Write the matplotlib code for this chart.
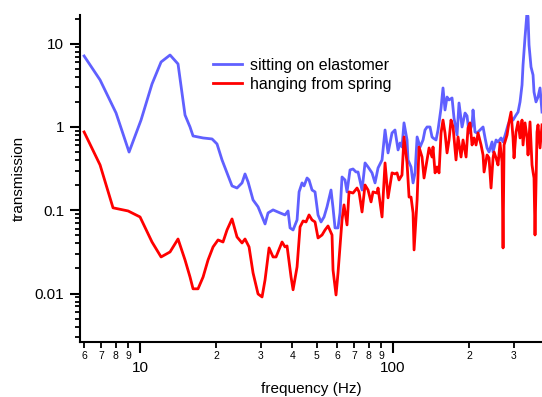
import matplotlib
matplotlib.use('Agg')
import matplotlib.pyplot as plt
import matplotlib.ticker as mticker
import numpy as np

plt.rcParams['font.family'] = ['Liberation Sans', 'DejaVu Sans']

# sitting on elastomer (blue)
freq_elastomer = [6.01, 6.95, 8.04, 9.05, 10.09, 11.15, 12.11, 13.14, 14.13, 15.06, 15.76, 16.2,
                  17.75, 19.26, 20.15, 21.09, 22.07, 23.1, 24.17, 25.3, 26.0, 26.73, 27.97, 29.27,
                  31.2, 32.06, 33.56, 35.76, 37.42, 38.46, 39.17, 40.26, 41.75, 42.52, 43.69, 44.49,
                  45.73, 46.56, 47.85, 49.17, 50.53, 51.93, 53.37, 54.84, 56.87, 57.92, 58.99, 60.61,
                  61.72, 62.86, 64.6, 65.79, 67.61, 69.48, 71.41, 72.73, 75.42, 77.51, 79.66, 82.61,
                  84.89, 87.25, 90.48, 92.99, 95.56, 99.08, 101.8, 104.7, 106.6, 108.5, 110.5, 113.6,
                  114.6, 117.8, 120.0, 122.2, 124.5, 127.9, 131.4, 133.8, 136.3, 140.0, 142.6, 143.9,
                  147.9, 150.6, 154.8, 157.6, 160.5, 163.5, 166.5, 171.1, 174.2, 179.1, 182.3, 187.4,
                  192.6, 196.1, 199.7, 205.3, 207.1, 210.9, 214.8, 220.8, 226.9, 231.1, 235.3, 239.6,
                  246.3, 248.5, 255.4, 260.0, 267.3, 272.2, 279.7, 284.8, 292.7, 298.1, 306.3, 312.0,
                  317.7, 323.5, 326.5, 332.5, 338.6, 341.7, 344.8, 351.1, 357.6, 360.8, 367.4, 374.2,
                  381.1, 388.1]
trans_elastomer = [7.12, 3.67, 1.47, 0.50, 1.21, 3.28, 6.03, 7.31, 5.71, 1.39, 1.0, 0.78,
                   0.738, 0.718, 0.625, 0.402, 0.281, 0.196, 0.185, 0.213, 0.273, 0.219, 0.133, 0.110,
                   0.0685, 0.0929, 0.101, 0.0929, 0.0879, 0.0981, 0.0614, 0.058, 0.0765, 0.166, 0.213, 0.196,
                   0.244, 0.231, 0.175, 0.166, 0.0879, 0.0724, 0.0831, 0.110, 0.175, 0.107, 0.0614, 0.0614,
                   0.0929, 0.251, 0.231, 0.166, 0.305, 0.313, 0.288, 0.288, 0.175, 0.370, 0.331, 0.281,
                   0.213, 0.322, 0.402, 0.920, 0.488, 0.847, 0.920, 0.530, 0.643, 0.575, 1.12, 0.698,
                   0.402, 0.331, 0.213, 0.281, 0.759, 0.575, 0.698, 0.920, 1.0, 1.0, 0.759, 0.738,
                   0.698, 0.920, 1.69, 2.94, 1.60, 2.29, 2.11, 2.23, 1.28, 0.801, 1.94, 1.0,
                   1.47, 1.36, 0.847, 1.06, 1.60, 0.871, 0.847, 0.920, 1.0, 0.738, 0.560, 0.501,
                   0.661, 0.501, 0.698, 0.661, 0.738, 0.661, 0.871, 1.06, 1.28, 1.21, 1.39, 1.51,
                   2.0, 3.19, 5.55, 12.0, 24.0, 21.0, 9.65, 5.25, 4.21, 2.63, 2.0, 2.29,
                   2.94, 1.51]

# hanging from spring (red)
freq_spring = [6.01, 6.95, 7.82, 8.97, 10.0, 11.15, 12.11, 13.14, 14.13, 15.06, 15.76, 16.2,
               16.95, 17.75, 18.57, 19.44, 20.34, 21.28, 22.07, 23.1, 24.17, 25.3, 26.0, 26.97,
               27.97, 29.27, 30.36, 31.2, 32.36, 33.56, 34.48, 36.42, 37.42, 38.11, 39.53, 40.26,
               41.75, 42.9, 44.1, 45.31, 46.56, 47.85, 49.17, 50.53, 52.41, 53.85, 55.35, 57.39,
               57.92, 59.52, 60.61, 62.86, 64.01, 65.79, 67.0, 69.48, 72.07, 73.39, 75.42, 77.51,
               79.66, 81.86, 83.36, 86.46, 87.25, 90.48, 92.99, 95.56, 99.08, 101.8, 103.7, 105.6,
               108.5, 110.5, 113.6, 115.7, 117.8, 120.0, 121.1, 124.5, 126.7, 130.2, 132.6, 136.3,
               138.8, 142.6, 143.9, 146.6, 149.3, 152.0, 154.8, 157.6, 160.5, 163.5, 166.5, 169.5,
               172.7, 177.4, 180.7, 185.7, 189.1, 194.4, 197.9, 201.5, 205.3, 209.0, 212.9, 216.8,
               222.8, 226.9, 229.0, 235.3, 239.6, 244.0, 248.5, 250.8, 255.4, 260.0, 264.8, 269.7,
               272.2, 274.7, 282.3, 287.4, 292.7, 298.1, 300.8, 306.3, 312.0, 317.7, 323.5, 326.5,
               332.5, 338.6, 341.7, 347.9, 354.3, 357.6, 360.8, 364.1, 370.8, 374.2, 381.1, 388.1]
trans_spring = [0.871, 0.350, 0.107, 0.0981, 0.0831, 0.0416, 0.0275, 0.0316, 0.0452, 0.0253, 0.0158, 0.0114,
                0.0114, 0.0158, 0.0253, 0.0363, 0.044, 0.0416, 0.058, 0.0787, 0.0478, 0.0405, 0.0452, 0.0363,
                0.0177, 0.00989, 0.0091, 0.0146, 0.0353, 0.0275, 0.0275, 0.0416, 0.0363, 0.0373, 0.0158, 0.0111,
                0.0209, 0.0631, 0.0744, 0.0724, 0.0879, 0.0765, 0.0724, 0.0465, 0.0505, 0.058, 0.0648, 0.0505,
                0.0192, 0.00962, 0.0177, 0.0765, 0.116, 0.0667, 0.166, 0.161, 0.185, 0.166, 0.0954, 0.201,
                0.175, 0.126, 0.166, 0.161, 0.185, 0.0831, 0.370, 0.141, 0.281, 0.273, 0.281, 0.231,
                0.265, 0.759, 0.370, 0.144, 0.144, 0.0929, 0.0334, 0.133, 0.575, 0.436, 0.244, 0.402,
                0.560, 0.436, 0.575, 0.281, 0.331, 0.281, 0.847, 1.21, 0.847, 0.488, 0.698, 1.21,
                1.0, 0.402, 0.759, 0.436, 0.698, 0.436, 0.973, 1.12, 0.608, 0.738, 0.608, 0.847,
                0.608, 0.461, 0.288, 0.461, 0.425, 0.185, 0.425, 0.501, 0.425, 0.350, 0.643, 0.380,
                0.0353, 0.608, 0.801, 1.15, 1.51, 0.738, 0.425, 0.871, 1.15, 0.738, 1.21, 0.608,
                1.12, 0.738, 0.461, 1.15, 0.350, 0.288, 0.244, 0.0505, 0.871, 1.06, 0.560, 1.06]

labels = ['sitting on elastomer', 'hanging from spring']
colors = ['#6060FF', '#FF0000']

fig = plt.figure(figsize=(5.42, 3.97), dpi=100)
ax = fig.add_axes([80/542, 1 - 342/397, 462/542, 327/397])

ax.plot(freq_elastomer, trans_elastomer, color=colors[0], lw=2.0, label=labels[0])
ax.plot(freq_spring, trans_spring, color=colors[1], lw=2.0, label=labels[1])

ax.set_xscale('log')
ax.set_yscale('log')
ax.set_xlim(5.79, 388)
ax.set_ylim(0.00262, 22.1)

for s in ['top', 'right']:
    ax.spines[s].set_visible(False)
for s in ['left', 'bottom']:
    ax.spines[s].set_linewidth(1.5)

# y ticks
ax.yaxis.set_major_locator(mticker.FixedLocator([0.01, 0.1, 1, 10]))
ax.yaxis.set_major_formatter(mticker.FixedFormatter(['0.01', '0.1', '1', '10']))
ax.yaxis.set_minor_locator(mticker.LogLocator(base=10, subs=np.arange(2, 10), numticks=20))
ax.yaxis.set_minor_formatter(mticker.NullFormatter())
ax.tick_params(axis='y', which='major', direction='out', length=7.5, width=1.5, pad=4, labelsize=11)
ax.tick_params(axis='y', which='minor', direction='out', length=3.5, width=1.3)

# x ticks
ax.xaxis.set_major_locator(mticker.FixedLocator([10, 100]))
ax.xaxis.set_major_formatter(mticker.FixedFormatter(['10', '100']))
ax.xaxis.set_minor_locator(mticker.LogLocator(base=10, subs=np.arange(2, 10), numticks=20))
ax.xaxis.set_minor_formatter(mticker.FuncFormatter(lambda v, p: '%d' % round(v / 10 ** np.floor(np.log10(v) + 1e-9))))
ax.tick_params(axis='x', which='major', direction='out', length=8, width=1.5, pad=6, labelsize=11)
ax.tick_params(axis='x', which='minor', direction='out', length=4.5, width=1.3, pad=2, labelsize=7.5)

ax.set_xlabel('frequency (Hz)', fontsize=11, labelpad=4.5)
ax.set_ylabel('transmission', fontsize=11, labelpad=6)

ax.legend(loc='upper left', bbox_to_anchor=(0.288, 0.8685), frameon=False, fontsize=11.5,
          borderpad=0, borderaxespad=0, handlelength=1.8, handletextpad=0.5, labelspacing=0.22)

fig.savefig('out.png', dpi=100)
